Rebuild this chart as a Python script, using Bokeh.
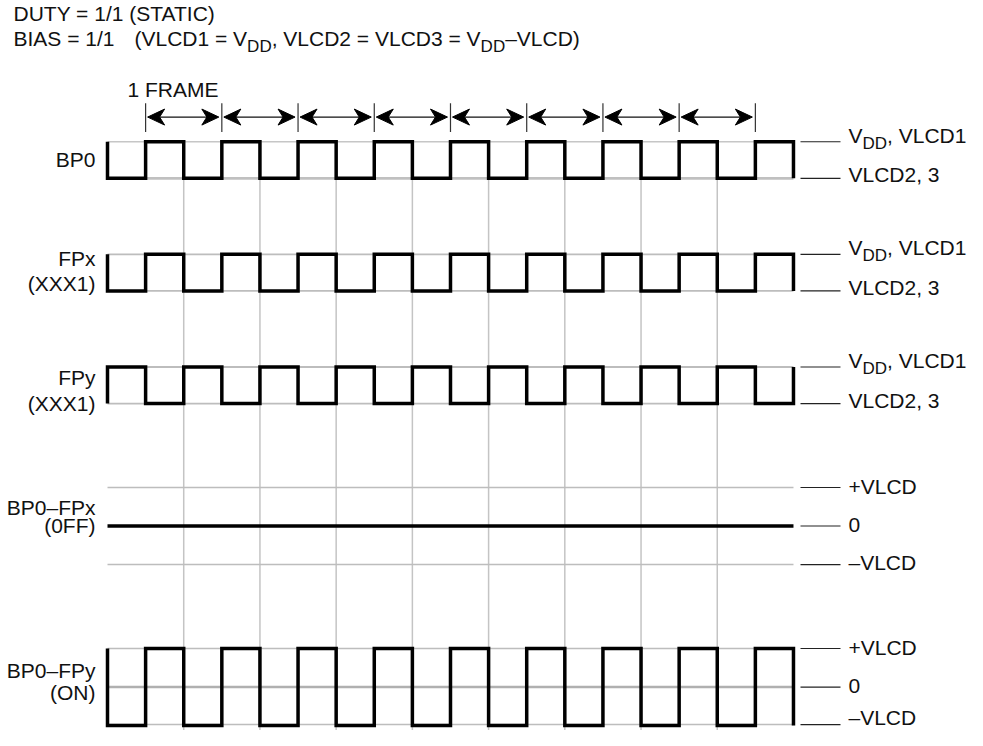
from bokeh.plotting import figure
from bokeh.models import Range1d
from bokeh.core.properties import value
from bokeh.embed import file_html
from bokeh.resources import INLINE

# ---------------- data ----------------
N_HALF = 18                      # half-periods shown
bp0 = [0, 1] * 9                 # BP0 logic level per half-period
fpx = [0, 1] * 9                 # FPx (XXX1)
fpy = [1, 0] * 9                 # FPy (XXX1)
bp0_fpx = [a - b for a, b in zip(bp0, fpx)]
bp0_fpy = [a - b for a, b in zip(bp0, fpy)]
frame_bounds = [1, 3, 5, 7, 9, 11, 13, 15, 17]
grid_times = [2, 4, 6, 8, 10, 12, 14, 16]

left_labels = [["BP0"], ["FPx", "(XXX1)"], ["FPy", "(XXX1)"],
               ["BP0–FPx", "(0FF)"], ["BP0–FPy", "(ON)"]]
logic_right = ["VLCD2, 3"]
diff_right = ["+VLCD", "0", "–VLCD"]
header1 = "DUTY = 1/1 (STATIC)"
frame_label = "1 FRAME"

# ---------------- layout (pixel-like) ----------------
X0, DX = 107.0, 38.11
def tx(px):
    return (px - X0) / DX

FONT = value("Liberation Sans")
FS, SFS = 21, 17
W = {' ': 278, '(': 333, ')': 333, '+': 584, ',': 278, '–': 556, '/': 278, '=': 584,
     'A': 667, 'B': 667, 'C': 722, 'D': 722, 'E': 667, 'F': 611, 'I': 278, 'L': 556,
     'M': 833, 'N': 722, 'O': 778, 'P': 667, 'R': 722, 'S': 667, 'T': 611, 'U': 722,
     'V': 667, 'X': 667, 'Y': 667, 'x': 500, 'y': 500}
def tw(s, size):
    return sum(W.get(c, 556) for c in s) * size / 1000.0

logic_rows = [(147, 184), (261, 298), (375, 412)]           # high, low
diff_rows = [(497, 536, 575), (660, 699, 737)]              # +, 0, -
diff_text_dy = [[-1, -1, -2], [-1, -1, -7]]
left_mid = [[165], [265, 290], [385.5, 412], [517.5, 535.5], [682.5, 704.5]]

YTOP, YBOT = 4, 743
p = figure(width=967, height=730, output_backend="svg", toolbar_location=None,
           x_range=Range1d(tx(0), tx(967)), y_range=Range1d(YBOT, YTOP),
           x_axis_location=None, y_axis_location=None, min_border=0,
           outline_line_color=None, background_fill_color="white")
p.grid.visible = False
YS = (YBOT - YTOP) / 730.0      # data units per screen pixel vertically

GRAY = "#bdbdbd"

# vertical gray grid
p.segment(x0=grid_times, y0=[logic_rows[0][1]] * len(grid_times), x1=grid_times,
          y1=[YBOT + 5] * len(grid_times), line_color="#c4c4c4", line_width=1.5)

def wave(levels, ymap, mirror):
    xs = [0]
    ys = [ymap(mirror(levels[0]))]
    for i, l in enumerate(levels):
        xs += [i, i + 1]
        ys += [ymap(l), ymap(l)]
    xs.append(len(levels))
    ys.append(ymap(mirror(levels[-1])))
    return xs, ys

rx0, rx1 = tx(800), tx(840)
text_x, text_y, text_s = [], [], []
sub_x, sub_y, sub_s = [], [], []

# logic channels
for (hi, lo), lv, k in zip(logic_rows, [bp0, fpx, fpy], range(3)):
    widths = [1.3, 2.8] if k == 0 else [1.8, 1.8]
    colors = ["#c6c6c6", "#c0c0c0"] if k == 0 else [GRAY, GRAY]
    for yy, lw, c in zip([hi, lo], widths, colors):
        p.segment(x0=[0], y0=[yy], x1=[N_HALF], y1=[yy], line_color=c, line_width=lw)
    ymap = lambda l, hi=hi, lo=lo: lo - l * (lo - hi)
    xs, ys = wave(lv, ymap, lambda l: 1 - l)
    p.line(xs, ys, line_color="black", line_width=3.5, line_join="miter")
    p.segment(x0=[rx0, rx0], y0=[hi, lo], x1=[rx1, rx1], y1=[hi, lo],
              line_color="#222222", line_width=1.2)
    bx = 848
    text_x.append(tx(bx)); text_y.append(hi - 6.5); text_s.append("V")
    sx = bx + tw("V", FS)
    sub_x.append(tx(sx)); sub_y.append(hi + 1.5); sub_s.append("DD")
    sx += tw("DD", SFS)
    text_x.append(tx(sx)); text_y.append(hi - 6.5); text_s.append(", VLCD1")
    text_x.append(tx(bx)); text_y.append(lo - 3.5); text_s.append(logic_right[0])

# difference channels
for (pos, zero, neg), lv, k in zip(diff_rows, [bp0_fpx, bp0_fpy], range(2)):
    zw = 0 if k == 0 else 2.6
    for yy in [pos, neg]:
        p.segment(x0=[0], y0=[yy], x1=[N_HALF], y1=[yy], line_color=GRAY, line_width=1.5)
    if zw:
        p.segment(x0=[0], y0=[zero], x1=[N_HALF], y1=[zero], line_color="#b0b0b0", line_width=zw)
    ymap = lambda l, pos=pos, zero=zero: zero - l * (zero - pos)
    xs, ys = wave(lv, ymap, lambda l: -l)
    p.line(xs, ys, line_color="black", line_width=3.5, line_join="miter")
    p.segment(x0=[rx0] * 3, y0=[pos, zero, neg], x1=[rx1] * 3, y1=[pos, zero, neg],
              line_color="#222222", line_width=1.2)
    for yy, s, d in zip([pos, zero, neg], diff_right, diff_text_dy[k]):
        text_x.append(tx(848)); text_y.append(yy + d); text_s.append(s)

# frame ticks & double arrows with notched heads
AY = 122
p.segment(x0=frame_bounds, y0=[108] * len(frame_bounds), x1=frame_bounds,
          y1=[137] * len(frame_bounds), line_color="#333333", line_width=1.2)
HL, HH, HN = 17.0, 16.0, 12.0     # head length, height, notch depth (px)
hx, hy, sx0, sx1 = [], [], [], []
for a, b in zip(frame_bounds[:-1], frame_bounds[1:]):
    lt = a + 2.0 / DX
    rt = b - 3.0 / DX
    hx.append([lt, lt + HL / DX, lt + HN / DX, lt + HL / DX])
    hy.append([AY, AY - HH / 2 * YS, AY, AY + HH / 2 * YS])
    hx.append([rt, rt - HL / DX, rt - HN / DX, rt - HL / DX])
    hy.append([AY, AY - HH / 2 * YS, AY, AY + HH / 2 * YS])
    sx0.append(lt + HN / DX); sx1.append(rt - HN / DX)
p.segment(x0=sx0, y0=[AY] * len(sx0), x1=sx1, y1=[AY] * len(sx0),
          line_color="#111111", line_width=1.2)
p.patches(hx, hy, fill_color="black", line_color="black", line_width=1)

# header
text_x.append(tx(13)); text_y.append(17.5); text_s.append(header1)
segs = [("BIAS = 1/1", 0), ("(VLCD1 = V", 0), ("DD", 1), (", VLCD2 = VLCD3 = V", 0),
        ("DD", 1), ("–VLCD)", 0)]
hx0 = 13
for i, (s, sub) in enumerate(segs):
    if i == 1:
        hx0 = 134
    if sub:
        sub_x.append(tx(hx0)); sub_y.append(50.5); sub_s.append(s)
        hx0 += tw(s, SFS)
    else:
        text_x.append(tx(hx0)); text_y.append(42.5); text_s.append(s)
        hx0 += tw(s, FS)
text_x.append(tx(127)); text_y.append(94.5); text_s.append(frame_label)

p.text(x=text_x, y=text_y, text=text_s, text_font=FONT, text_font_size=value(f"{FS}px"),
       text_color="#111111", text_baseline="middle", text_align="left")
p.text(x=sub_x, y=sub_y, text=sub_s, text_font=FONT, text_font_size=value(f"{SFS}px"),
       text_color="#111111", text_baseline="middle", text_align="left")

# left labels (right aligned)
lx, ly, ls = [], [], []
for lines, mids in zip(left_labels, left_mid):
    for s, m in zip(lines, mids):
        lx.append(tx(95)); ly.append(m); ls.append(s)
p.text(x=lx, y=ly, text=ls, text_font=FONT, text_font_size=value(f"{FS}px"),
       text_color="#111111", text_baseline="middle", text_align="right")

open("out.html", "w").write(file_html(p, INLINE))
